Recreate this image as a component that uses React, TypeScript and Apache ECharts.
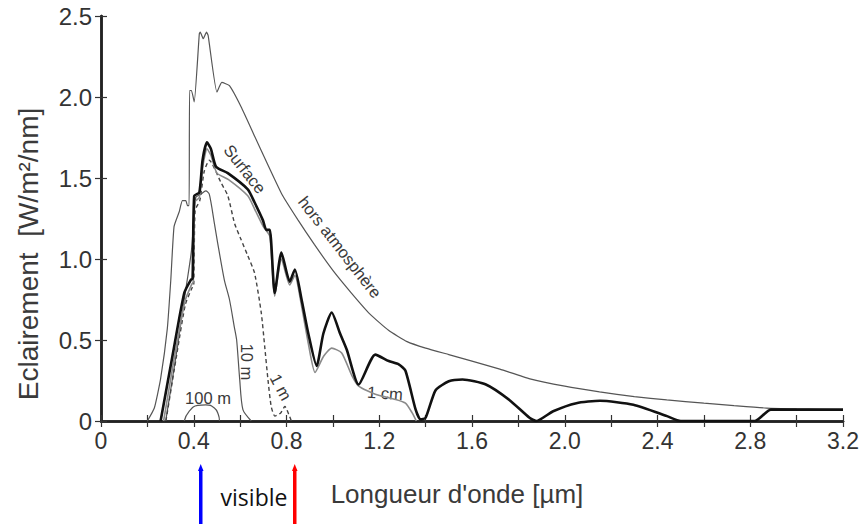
import React, { useEffect, useRef } from "react";
import * as echarts from "echarts";

// ---- tick labels ----
const xTickLabels = ["0", "0.4", "0.8", "1.2", "1.6", "2.0", "2.4", "2.8", "3.2"];
const yTickLabels = ["0", "0.5", "1.0", "1.5", "2.0", "2.5"];

// ---- series (wavelength µm, irradiance W/m²/nm) ----
const horsAtmosphere: [number, number][] = [
  [0.2, 0.0], [0.23, 0.08], [0.257, 0.26], [0.286, 0.57], [0.301, 0.87], [0.315, 1.2],
  [0.337, 1.29], [0.351, 1.36], [0.366, 1.36], [0.373, 1.33], [0.38, 1.33], [0.382, 2.04],
  [0.39, 2.04], [0.402, 1.97], [0.424, 2.39], [0.428, 2.4], [0.441, 2.36], [0.455, 2.4],
  [0.462, 2.38], [0.5, 2.03], [0.521, 2.09], [0.554, 2.07], [0.604, 1.94], [0.662, 1.76],
  [0.72, 1.58], [0.78, 1.4], [0.85, 1.24], [0.92, 1.09], [1.0, 0.93], [1.08, 0.79],
  [1.16, 0.66], [1.24, 0.56], [1.32, 0.49], [1.4, 0.45], [1.5, 0.41], [1.6, 0.37],
  [1.72, 0.32], [1.85, 0.26], [2.0, 0.215], [2.15, 0.18], [2.3, 0.15], [2.44, 0.13],
  [2.6, 0.11], [2.73, 0.095], [2.87, 0.08], [3.0, 0.075], [3.2, 0.07],
];

const surface: [number, number][] = [
  [0.257, 0], [0.308, 0.4], [0.359, 0.79], [0.387, 0.87], [0.395, 0.88], [0.402, 1.39],
  [0.424, 1.41], [0.438, 1.61], [0.457, 1.72], [0.474, 1.68], [0.496, 1.57], [0.547, 1.53],
  [0.633, 1.43], [0.662, 1.35], [0.698, 1.24], [0.713, 1.18], [0.728, 1.18], [0.749, 0.79],
  [0.778, 1.04], [0.814, 0.86], [0.836, 0.935], [0.865, 0.75], [0.894, 0.54], [0.93, 0.34],
  [0.959, 0.54], [0.995, 0.67], [1.031, 0.54], [1.06, 0.44], [1.111, 0.225], [1.183, 0.41],
  [1.241, 0.37], [1.284, 0.35], [1.313, 0.31], [1.357, 0.07], [1.378, 0.01], [1.4, 0.02],
  [1.443, 0.19], [1.5, 0.245], [1.559, 0.256], [1.66, 0.225], [1.761, 0.13], [1.848, 0.02],
  [1.877, 0], [1.95, 0.06], [2.05, 0.11], [2.152, 0.125], [2.296, 0.1], [2.441, 0.03],
  [2.5, 0], [2.82, 0], [2.889, 0.07], [3.2, 0.07],
];

const unCm: [number, number][] = [
  [0.27, 0], [0.315, 0.38], [0.362, 0.74], [0.39, 0.84], [0.398, 0.86], [0.404, 1.35],
  [0.424, 1.38], [0.44, 1.58], [0.457, 1.68], [0.474, 1.64], [0.5, 1.53], [0.55, 1.49],
  [0.633, 1.39], [0.662, 1.31], [0.7, 1.2], [0.728, 1.14], [0.749, 0.77], [0.778, 1.0],
  [0.814, 0.84], [0.836, 0.9], [0.865, 0.71], [0.894, 0.48], [0.923, 0.3], [0.96, 0.4],
  [0.995, 0.45], [1.038, 0.42], [1.082, 0.28], [1.111, 0.215], [1.183, 0.165], [1.27, 0.133],
  [1.313, 0.11], [1.342, 0.05], [1.36, 0],
];

const unM: [number, number][] = [
  [0.28, 0], [0.33, 0.44], [0.364, 0.72], [0.392, 0.82], [0.4, 0.84], [0.406, 1.3],
  [0.426, 1.36], [0.445, 1.54], [0.467, 1.61], [0.518, 1.47], [0.547, 1.39], [0.576, 1.22],
  [0.604, 1.12], [0.633, 1.02], [0.662, 0.915], [0.691, 0.67], [0.706, 0.46], [0.72, 0.256],
  [0.734, 0.09], [0.75, 0.03], [0.775, 0.05], [0.793, 0.09], [0.81, 0.04], [0.821, 0],
];

const dixM: [number, number][] = [
  [0.279, 0], [0.33, 0.46], [0.359, 0.75], [0.39, 1.05], [0.409, 1.38], [0.431, 1.4],
  [0.452, 1.42], [0.467, 1.4], [0.489, 1.22], [0.503, 1.1], [0.532, 0.87], [0.554, 0.75],
  [0.575, 0.58], [0.585, 0.5], [0.598, 0.26], [0.612, 0.07], [0.648, 0],
];

const centM: [number, number][] = [
  [0.359, 0], [0.38, 0.06], [0.417, 0.096], [0.452, 0.1], [0.489, 0.08], [0.506, 0.04], [0.511, 0],
];

const FONT = "'Liberation Sans', Arial, sans-serif";
const deg = Math.PI / 180;

export default function App() {
  const ref = useRef<HTMLDivElement>(null);

  useEffect(() => {
    if (!ref.current) return;
    const chart = echarts.init(ref.current, undefined, { renderer: "svg" });

    const xLabel = (v: number) => {
      const i = Math.round(v / 0.4);
      return Math.abs(i * 0.4 - v) < 1e-6 ? xTickLabels[i] ?? "" : "";
    };
    const yLabel = (v: number) => {
      const i = Math.round(v / 0.5);
      return yTickLabels[i] ?? "";
    };

    const frame = { show: true, lineStyle: { color: "#222", width: 2.5 } };
    const tick = { show: true, inside: true, length: 6, lineStyle: { color: "#333", width: 1.2 } };
    const minor = { show: true, splitNumber: 2, length: 6, lineStyle: { color: "#333", width: 1.2 } };

    const line = (name: string, data: [number, number][], color: string, width: number, smooth: number, type: any = "solid", z = 2) => ({
      name,
      type: "line",
      data,
      symbol: "none",
      showSymbol: false,
      smooth,
      z,
      lineStyle: { color, width, type },
      emphasis: { disabled: true },
    });

    const label = (text: string, x: number, y: number, rot: number, size = 16.5) => ({
      type: "text",
      x,
      y,
      rotation: rot * deg,
      style: { text, fontSize: size, fontFamily: FONT, fill: "#3a3a3a", align: "center", verticalAlign: "middle" },
    });

    chart.setOption({
      animation: false,
      backgroundColor: "#ffffff",
      grid: { left: 101, right: 22, top: 16, bottom: 103, containLabel: false },
      xAxis: [
        {
          type: "value",
          min: 0,
          max: 3.2,
          interval: 0.4,
          position: "bottom",
          axisLine: frame,
          axisTick: tick,
          minorTick: minor,
          splitLine: { show: false },
          axisLabel: { formatter: xLabel, fontSize: 23, fontFamily: FONT, color: "#333", margin: 8 },
        },
        {
          type: "value",
          min: 0,
          max: 3.2,
          interval: 0.4,
          position: "top",
          axisLine: frame,
          axisTick: tick,
          minorTick: minor,
          splitLine: { show: false },
          axisLabel: { show: false },
        },
      ],
      yAxis: [
        {
          type: "value",
          min: 0,
          max: 2.5,
          interval: 0.5,
          position: "left",
          axisLine: frame,
          axisTick: tick,
          splitLine: { show: false },
          axisLabel: { formatter: yLabel, fontSize: 24, fontFamily: FONT, color: "#333", margin: 9 },
        },
        {
          type: "value",
          min: 0,
          max: 2.5,
          interval: 0.5,
          position: "right",
          axisLine: frame,
          axisTick: tick,
          splitLine: { show: false },
          axisLabel: { show: false },
        },
      ],
      series: [
        line("hors atmosphère", horsAtmosphere, "#555", 1.2, 0.15),
        line("100 m", centM, "#555", 1.2, 0.5),
        line("10 m", dixM, "#555", 1.2, 0.25),
        line("1 m", unM, "#444", 1.4, 0.2, [4, 3]),
        line("1 cm", unCm, "#8a8a8a", 1.6, 0.2),
        line("Surface", surface, "#111", 2.6, 0.2, "solid", 3),
      ],
      graphic: [
        label("Surface", 245, 169, -52),
        label("hors atmosphère", 340, 247, -52),
        label("10 m", 247, 362, -90),
        label("1 m", 281, 387, -62),
        label("100 m", 208, 398, 0),
        label("1 cm", 385, 393, -4),
        label("Eclairement  [W/m²/nm]", 28, 254, 90, 28),
        label("Longueur d'onde [µm]", 457, 494, 0, 26),
        { type: "rect", shape: { x: 199, y: 469, width: 3.5, height: 56 }, style: { fill: "#0000ff" } },
        { type: "polygon", shape: { points: [[198, 471], [200.7, 464], [203.5, 471]] }, style: { fill: "#0000ff" } },
        { type: "rect", shape: { x: 293, y: 469, width: 3.5, height: 56 }, style: { fill: "#ff0000" } },
        { type: "polygon", shape: { points: [[292, 471], [294.7, 464], [297.5, 471]] }, style: { fill: "#ff0000" } },
        {
          type: "text", x: 254, y: 497,
          style: { text: "visible", fontSize: 23, fontFamily: "'Open Sans', sans-serif", fill: "#111", align: "center", verticalAlign: "middle" },
        },
      ],
    });

    return () => chart.dispose();
  }, []);

  return (
    <div
      ref={ref}
      style={{ position: "fixed", left: 0, top: 0, width: 865, height: 524, background: "#fff" }}
    />
  );
}
